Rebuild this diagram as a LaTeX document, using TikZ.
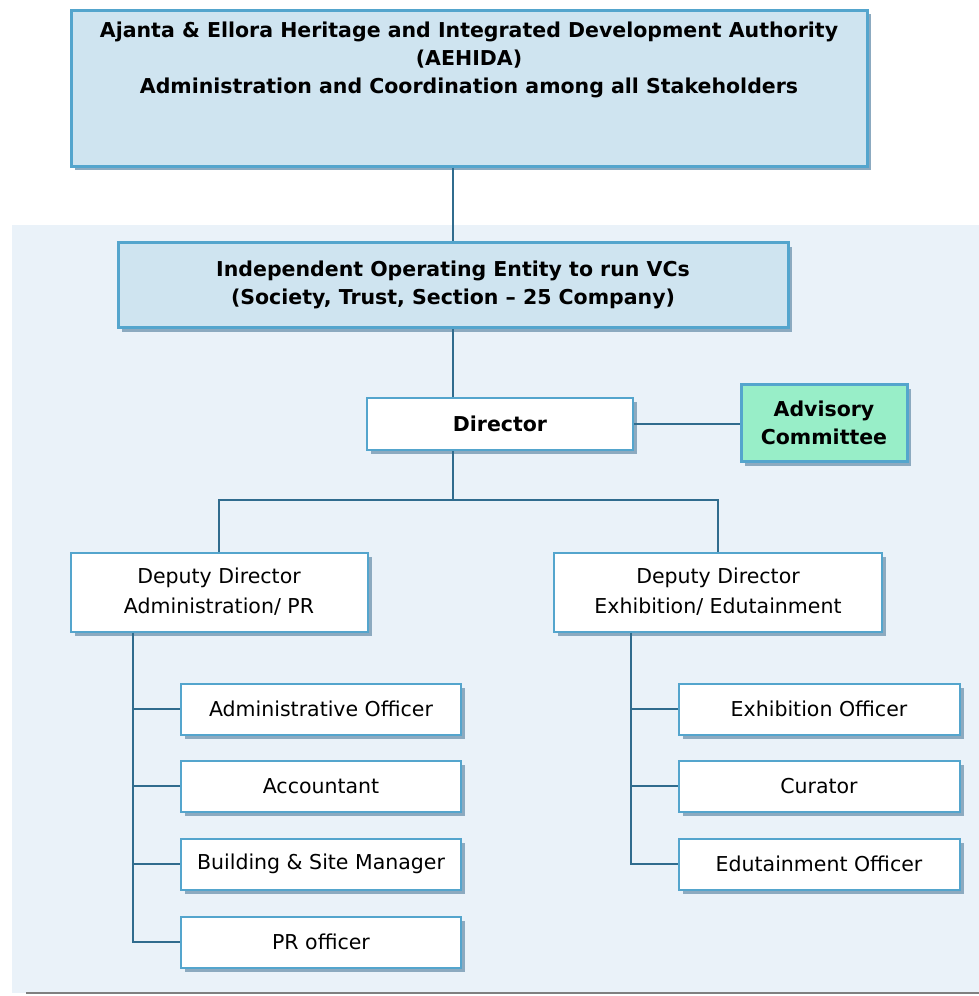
\documentclass[tikz,border=0pt]{standalone}
\usepackage{fontspec}
\setmainfont{DejaVu Sans}
\usepackage{tikz}
\usetikzlibrary{shadows}
\definecolor{panelbg}{RGB}{234,242,249}
\definecolor{boxblue}{RGB}{207,228,240}
\definecolor{edgeblue}{RGB}{84,165,205}
\definecolor{linkblue}{RGB}{48,108,142}
\definecolor{shadowgray}{RGB}{140,170,192}
\definecolor{advgreen}{RGB}{152,238,200}

\begin{document}
\begin{tikzpicture}[x=1pt, y=-1pt,
    box/.style={draw=edgeblue, line width=2pt, fill=white, inner sep=0pt,
        drop shadow={shadow xshift=4pt, shadow yshift=-4pt, fill=shadowgray, opacity=1}},
    bigbox/.style={box, line width=3pt, fill=boxblue},
    txt/.style={align=center, font=\fontsize{20.5}{30}\selectfont},
    bold/.style={txt, font=\fontsize{20.5}{28}\selectfont\bfseries},
    link/.style={draw=linkblue, line width=1.6pt}]
    \useasboundingbox (0,0) rectangle (979,996);

    % light panel for the operating entity
    \fill[panelbg] (12,225) rectangle (979,993);
    \draw[gray, line width=1.5pt] (26,993) -- (979,993);

    % authority at the top
    \node[bigbox, minimum width=796pt, minimum height=156pt] (aehida) at (469,88) {};
    \node[bold, anchor=north] (aehidatext) at (469,18)
        {Ajanta \& Ellora Heritage and Integrated Development Authority\\(AEHIDA)\\Administration and Coordination among all Stakeholders};

    \node[bigbox, bold, minimum width=670pt, minimum height=85pt] (entity) at (453,285)
        {Independent Operating Entity to run VCs\\(Society, Trust, Section -- 25 Company)};

    \node[box, bold, minimum width=266pt, minimum height=52pt] (director) at (500,424) {Director};
    \node[box, bold, line width=3pt, fill=advgreen, minimum width=166pt, minimum height=77pt] (advisory) at (824,423)
        {Advisory\\Committee};

    % deputy directors
    \node[box, txt, minimum width=297pt, minimum height=79pt] (ddadmin) at (219,592)
        {Deputy Director\\Administration/ PR};
    \node[box, txt, minimum width=328pt, minimum height=79pt] (ddexhib) at (718,592)
        {Deputy Director\\Exhibition/ Edutainment};

    % officers
    \node[box, txt, minimum width=280pt, minimum height=51pt] (adminoff) at (321,709) {Administrative Officer};
    \node[box, txt, minimum width=280pt, minimum height=51pt] (accountant) at (321,786) {Accountant};
    \node[box, txt, minimum width=280pt, minimum height=51pt] (sitemgr) at (321,864) {Building \& Site Manager};
    \node[box, txt, minimum width=280pt, minimum height=51pt] (proff) at (321,942) {PR officer};

    \node[box, txt, minimum width=281pt, minimum height=51pt] (exhoff) at (819,709) {Exhibition Officer};
    \node[box, txt, minimum width=281pt, minimum height=51pt] (curator) at (819,786) {Curator};
    \node[box, txt, minimum width=281pt, minimum height=51pt] (eduoff) at (819,864) {Edutainment Officer};

    % connectors
    \coordinate (split) at (453,500);
    \coordinate (lspine) at (133,0);
    \coordinate (rspine) at (631,0);
    \draw[link] (aehida.south -| entity) -- (entity.north);
    \draw[link] (entity.south) -- (director.north -| entity);
    \draw[link] (director.east) -- (advisory.west |- director.east);
    \draw[link] (director.south -| split) -- (split);
    \draw[link] (ddadmin.north) |- (split) -| (ddexhib.north);
    \draw[link] (ddadmin.south -| lspine) |- (proff.west);
    \foreach \n in {adminoff, accountant, sitemgr}
        \draw[link] (\n.west -| lspine) -- (\n.west);
    \draw[link] (ddexhib.south -| rspine) |- (eduoff.west);
    \foreach \n in {exhoff, curator}
        \draw[link] (\n.west -| rspine) -- (\n.west);
\end{tikzpicture}
\end{document}
